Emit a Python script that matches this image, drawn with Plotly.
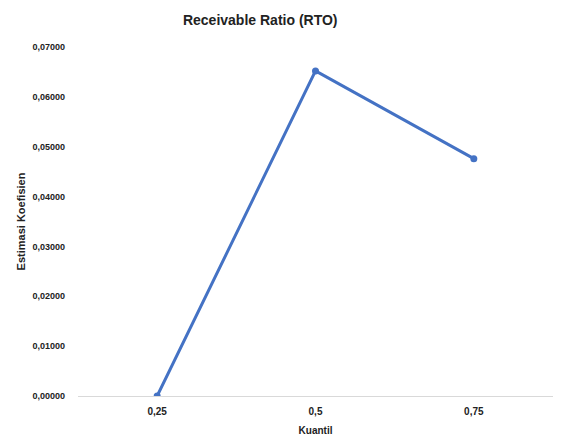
import plotly.graph_objects as go

kuantil = ["0,25", "0,5", "0,75"]
koefisien = [0.0000, 0.0652, 0.0476]
y_ticks = [0.00, 0.01, 0.02, 0.03, 0.04, 0.05, 0.06, 0.07]

fig = go.Figure(go.Scatter(
    x=kuantil, y=koefisien, mode="lines+markers",
    line=dict(color="#4472C4", width=3),
    marker=dict(color="#4472C4", size=7),
))

font_family = "Liberation Sans, Arial, sans-serif"
fig.update_layout(
    width=563, height=440,
    margin=dict(l=70, r=18, t=39, b=52),
    paper_bgcolor="white", plot_bgcolor="white",
    separators=",.",
    showlegend=False,
    title=dict(text="<b>Receivable Ratio (RTO)</b>", x=0.448, xanchor="center",
               y=1 - 12 / 440, yanchor="middle",
               font=dict(family=font_family, size=14, color="#222")),
    font=dict(family=font_family, color="#222"),
)
fig.update_xaxes(
    type="category", range=[-0.5, 2.5],
    showgrid=False, showline=False, zeroline=False,
    ticks="", tickfont=dict(size=10, weight="bold"),
    ticklabelstandoff=8,
    title=dict(text="<b>Kuantil</b>", font=dict(size=10), standoff=10),
)
fig.update_yaxes(
    range=[0, 0.07], tickvals=y_ticks, tickformat=".5f",
    showgrid=False, zeroline=True, zerolinecolor="#d9d9d9", zerolinewidth=1,
    showline=False, ticks="", tickfont=dict(size=9, weight="bold"),
    ticklabelstandoff=12,
    title=dict(text="<b>Estimasi Koefisien</b>", font=dict(size=11), standoff=4),
)
fig.write_html("out.html")
